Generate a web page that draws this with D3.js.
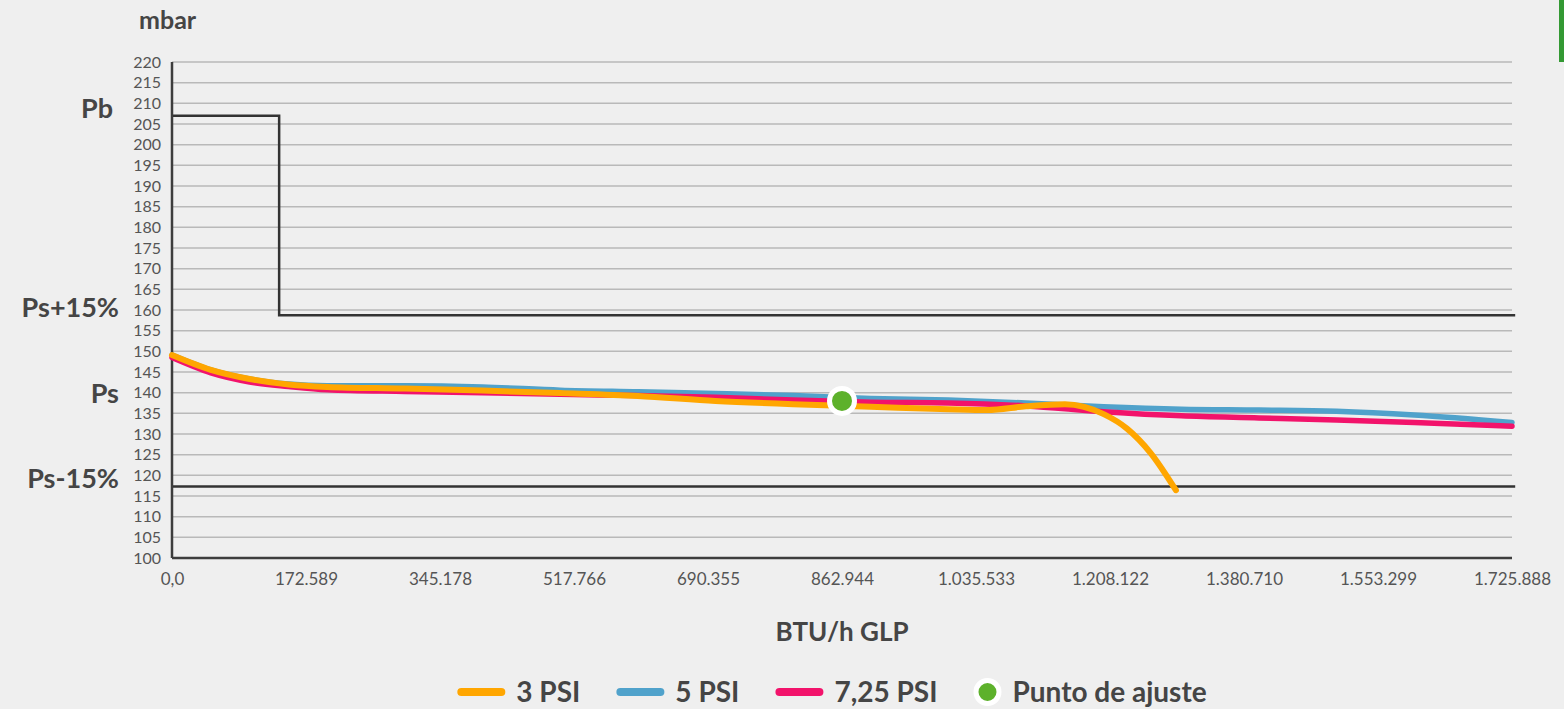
<!DOCTYPE html>
<html>
<head>
<meta charset="utf-8">
<script src="https://cdn.jsdelivr.net/npm/d3@7"></script>
<style>
  html, body { margin: 0; padding: 0; background: #efefef; }
  svg { display: block; font-family: Lato, "Open Sans", sans-serif; }
</style>
</head>
<body>
<div id="chart"></div>
<script>
// flow in BTU/h GLP
var flow3 = [0, 50000, 100000, 150000, 200000, 300000, 400000, 500000, 600000, 700000, 800000, 900000, 1000000, 1050000, 1100000, 1150000, 1200000, 1230000, 1260000, 1293000];
var psi3  = [149.1, 145.5, 143.3, 142.0, 141.4, 141.0, 140.5, 139.9, 139.2, 138.0, 137.2, 136.6, 136.0, 135.8, 136.7, 137.2, 134.8, 131.3, 125.5, 116.4];

var flow = [0, 50000, 100000, 150000, 200000, 300000, 400000, 500000, 600000, 700000, 800000, 900000, 1000000, 1100000, 1200000, 1300000, 1400000, 1500000, 1600000, 1725888];
var psi5    = [149.1, 145.5, 143.3, 142.1, 141.7, 141.7, 141.4, 140.6, 140.2, 139.8, 139.3, 138.6, 138.2, 137.5, 136.6, 136.0, 135.8, 135.5, 134.6, 132.8];
var psi725  = [148.5, 144.8, 142.6, 141.5, 140.7, 140.3, 140.0, 139.6, 139.3, 138.9, 138.2, 137.7, 137.5, 136.8, 135.4, 134.4, 133.9, 133.4, 132.8, 131.9];

// set point and pressure limits (mbar)
var setPoint = [862944, 138];
var Pb = 207, PsPlus = 158.7, PsMinus = 117.3, stepFlow = 138000, lineEnd = 1730000;

var xTicks = [0, 172589, 345178, 517766, 690355, 862944, 1035533, 1208122, 1380710, 1553299, 1725888];
var xTickLabels = ["0,0", "172.589", "345.178", "517.766", "690.355", "862.944", "1.035.533", "1.208.122", "1.380.710", "1.553.299", "1.725.888"];
var yTicks = d3.range(100, 221, 5);

var sideLabels = [["Pb", Pb], ["Ps+15%", PsPlus], ["Ps", setPoint[1]], ["Ps-15%", PsMinus]];
var legendNames = ["3 PSI", "5 PSI", "7,25 PSI", "Punto de ajuste"];
var colors = ["#ffa600", "#50a2cb", "#f2136b", "#5db12b"];

var W = 1564, H = 709;
var margin = {top: 62, left: 172, right: 52, bottom: 151};
var width = W - margin.left - margin.right,
    height = H - margin.top - margin.bottom;

var svg = d3.select("#chart").append("svg")
    .attr("width", W)
    .attr("height", H);

// little green tab top right
svg.append("rect")
    .attr("x", 1559).attr("y", 0).attr("width", 5).attr("height", 62)
    .attr("fill", "#339933");

var g = svg.append("g")
    .attr("transform", "translate(" + margin.left + "," + margin.top + ")");

var x = d3.scaleLinear().domain([0, 1725888]).range([0, width]);
var y = d3.scaleLinear().domain([100, 220]).range([height, 0]);

// grid
g.append("g")
    .selectAll("line")
    .data(yTicks)
  .enter().append("line")
    .attr("x1", 0).attr("x2", width)
    .attr("y1", function(d) { return y(d); })
    .attr("y2", function(d) { return y(d); })
    .attr("stroke", "#b9b9b9")
    .attr("stroke-width", 1.5);

// axes
var yAxis = g.append("g")
    .call(d3.axisLeft(y).tickValues(yTicks).tickSize(0).tickPadding(11));
var xAxis = g.append("g")
    .attr("transform", "translate(0," + height + ")")
    .call(d3.axisBottom(x).tickValues(xTicks).tickSize(0).tickPadding(15)
      .tickFormat(function(d, i) { return xTickLabels[i]; }));

[xAxis, yAxis].forEach(function(a) {
  a.select(".domain").remove();
  a.selectAll("text")
    .attr("fill", "#555")
    .style("font-size", "17px")
    .style("font-family", "Lato, sans-serif");
});
yAxis.selectAll("text").style("font-size", "16px");

// pressure limit lines
var limit = d3.line().x(function(d) { return x(d[0]); }).y(function(d) { return y(d[1]); });
g.append("path")
    .attr("d", limit([[0, Pb], [stepFlow, Pb], [stepFlow, PsPlus], [lineEnd, PsPlus]]))
    .attr("fill", "none").attr("stroke", "#333").attr("stroke-width", 2.5);
g.append("path")
    .attr("d", limit([[0, PsMinus], [lineEnd, PsMinus]]))
    .attr("fill", "none").attr("stroke", "#333").attr("stroke-width", 2.5);

// axis lines
g.append("line").attr("x1", 0).attr("x2", 0).attr("y1", 0).attr("y2", height)
    .attr("stroke", "#3d3d3d").attr("stroke-width", 2.5);
g.append("line").attr("x1", 0).attr("x2", width).attr("y1", height).attr("y2", height)
    .attr("stroke", "#3d3d3d").attr("stroke-width", 2.5);

// curves
var curve = d3.line()
    .x(function(d) { return x(d[0]); })
    .y(function(d) { return y(d[1]); })
    .curve(d3.curveMonotoneX);

var series = [
  {vals: d3.zip(flow, psi5), color: colors[1], w: 5.5},
  {vals: d3.zip(flow, psi725), color: colors[2], w: 5.5},
  {vals: d3.zip(flow3, psi3), color: colors[0], w: 6}
];
series.forEach(function(s) {
  g.append("path")
      .attr("d", curve(s.vals))
      .attr("fill", "none")
      .attr("stroke", s.color)
      .attr("stroke-width", s.w)
      .attr("stroke-linecap", "round")
      .attr("stroke-linejoin", "round");
});

// set point
g.append("circle")
    .attr("cx", x(setPoint[0])).attr("cy", y(setPoint[1]))
    .attr("r", 12.5)
    .attr("fill", colors[3]).attr("stroke", "#fff").attr("stroke-width", 5);

// left labels
svg.append("g").selectAll("text")
    .data(sideLabels)
  .enter().append("text")
    .attr("x", function(d, i) { return i == 0 ? 113 : 119; })
    .attr("y", function(d) { return margin.top + y(d[1]) + 2; })
    .attr("text-anchor", "end")
    .attr("fill", "#454545")
    .style("font-size", "27px").style("font-weight", 700)
    .text(function(d) { return d[0]; });

// axis titles
svg.append("text")
    .attr("x", 139).attr("y", 29)
    .attr("fill", "#454545")
    .style("font-size", "25px").style("font-weight", 700)
    .text("mbar");
svg.append("text")
    .attr("x", 842).attr("y", 641)
    .attr("text-anchor", "middle")
    .attr("fill", "#454545")
    .style("font-size", "26px").style("font-weight", 700)
    .text("BTU/h GLP");

// legend
var legend = svg.append("g");
var lx = 0;
legendNames.forEach(function(name, i) {
  var item = legend.append("g").attr("transform", "translate(" + lx + ",0)");
  var sw;
  if (i < 3) {
    item.append("line")
        .attr("x1", 4).attr("x2", 44).attr("y1", 0).attr("y2", 0)
        .attr("stroke", colors[i]).attr("stroke-width", 8)
        .attr("stroke-linecap", "round");
    sw = 48;
  } else {
    item.append("circle")
        .attr("cx", 14).attr("cy", 0).attr("r", 11.5)
        .attr("fill", colors[3]).attr("stroke", "#fff").attr("stroke-width", 5);
    sw = 28;
  }
  var t = item.append("text")
      .attr("x", sw + 11).attr("y", 10)
      .attr("fill", "#454545")
      .style("font-size", "28px").style("font-weight", 700)
      .text(name);
  lx += sw + 11 + t.node().getComputedTextLength() + 36;
});
var legendW = lx - 36;
legend.attr("transform", "translate(" + (832 - legendW / 2) + ",692)");
</script>
</body>
</html>
